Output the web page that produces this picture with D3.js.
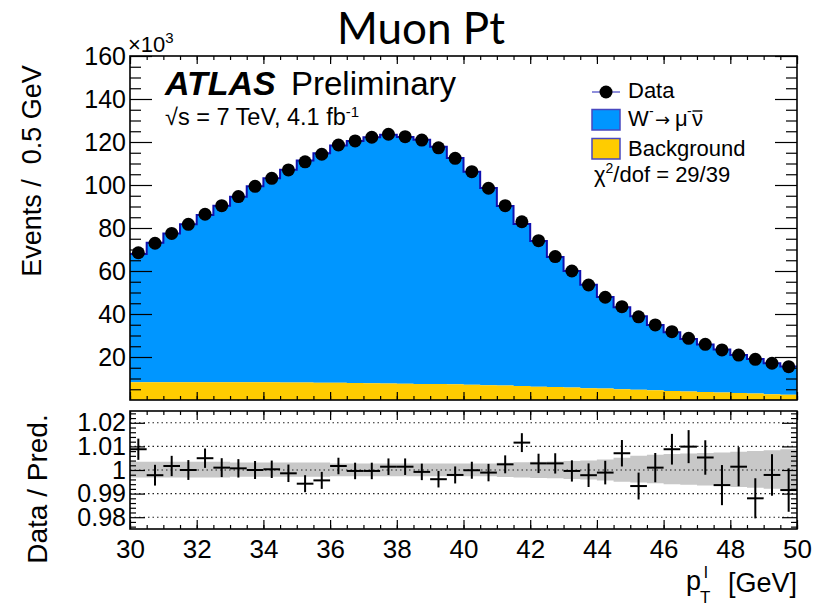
<!DOCTYPE html>
<html><head><meta charset="utf-8">
<script src="https://cdn.jsdelivr.net/npm/d3@7"></script>
<style>
body{margin:0;background:#fff}
text{font-family:"Liberation Sans",Arial,Helvetica,sans-serif;fill:#000}
</style>
</head><body>
<svg id="c" width="825" height="606"></svg>
<script>
// ---- data (x in GeV, main values in units of 10^3 events / 0.5 GeV) ----
const binLow = [30,30.5,31,31.5,32,32.5,33,33.5,34,34.5,35,35.5,36,36.5,37,37.5,38,38.5,39,39.5,
                40,40.5,41,41.5,42,42.5,43,43.5,44,44.5,45,45.5,46,46.5,47,47.5,48,48.5,49,49.5];
const binWidth = 0.5;
const dataVals = [68.5,72.9,77.5,81.7,86.4,90.4,94.6,99.4,103.1,107.0,110.8,114.3,118.6,120.5,122.2,123.6,122.5,120.9,117.3,112.4,
                  106.2,98.5,90.4,82.9,74.1,66.7,60.0,53.5,47.8,43.4,38.7,34.9,31.8,28.7,25.9,23.3,20.9,18.9,17.1,15.5];
const signalVals = [59.6,64.8,69.1,73.4,77.7,82.1,86.3,91.2,94.9,99.0,103.3,106.8,110.4,112.6,114.4,115.7,114.7,113.5,110.4,105.3,
                    99.1,91.7,83.5,75.4,67.7,60.5,54.2,48.1,42.6,38.1,34.2,30.4,27.3,24.4,22.1,20.0,17.7,16.1,14.4,13.2];
const backgroundVals = [8.3,8.3,8.3,8.3,8.3,8.2,8.2,8.2,8.2,8.1,8.1,8.0,8.0,7.9,7.8,7.7,7.6,7.5,7.4,7.3,
                        7.1,6.9,6.7,6.5,6.2,6.0,5.8,5.5,5.3,5.0,4.8,4.5,4.2,4.0,3.7,3.5,3.2,3.0,2.7,2.4];
const ratioVals = [1.0088,0.9978,1.0017,1.0000,1.0050,1.0010,1.0007,1.0000,1.0003,0.9986,0.9942,0.9956,1.0017,0.9996,0.9996,1.0014,1.0014,0.9992,0.9961,0.9979,
                   0.9999,0.9989,1.0024,1.0116,1.0028,1.0028,0.9996,0.9978,0.9989,1.0071,0.9932,1.0010,1.0088,1.0099,1.0053,0.9936,1.0014,0.9880,0.9979,0.9915];
const ratioErr = [0.0045,0.0044,0.0043,0.0042,0.0041,0.0040,0.0039,0.0038,0.0037,0.0037,0.0036,0.0036,0.0035,0.0035,0.0035,0.0035,0.0035,0.0035,0.0035,0.0036,
                  0.0036,0.0037,0.0038,0.0040,0.0041,0.0043,0.0045,0.0050,0.0050,0.0056,0.0057,0.0062,0.0065,0.0070,0.0073,0.0085,0.0083,0.0085,0.0088,0.0092];
const bandHi = [1.0035,1.0035,1.0035,1.0035,1.0035,1.0035,1.0032,1.0032,1.0032,1.0032,1.0032,1.0032,1.0028,1.0028,1.0028,1.0028,1.0028,1.0028,1.0028,1.0028,
                1.0028,1.0028,1.0031,1.0033,1.0035,1.0036,1.0038,1.0040,1.0045,1.0052,1.0060,1.0065,1.0068,1.0070,1.0072,1.0074,1.0077,1.0080,1.0084,1.0088];
const bandLo = [0.9968,0.9968,0.9968,0.9968,0.9968,0.9968,0.9971,0.9971,0.9971,0.9971,0.9971,0.9971,0.9973,0.9973,0.9973,0.9973,0.9973,0.9973,0.9973,0.9973,
                0.9973,0.9973,0.9970,0.9968,0.9966,0.9965,0.9962,0.9960,0.9955,0.9950,0.9947,0.9944,0.9940,0.9937,0.9934,0.9932,0.9928,0.9925,0.9921,0.9918];
const xMajorTicks = [30,32,34,36,38,40,42,44,46,48,50];
const yMainTicks = [20,40,60,80,100,120,140,160];
const yRatioTicks = [0.98,0.99,1,1.01,1.02];
const yRatioLabels = ["0.98","0.99","1","1.01","1.02"];

// ---- layout ----
const L = 130, R = 797, T1 = 56, B1 = 400, T2 = 411, B2 = 529;
const svg = d3.select("#c");
svg.append("rect").attr("width",825).attr("height",606).attr("fill","#fff");

const x = d3.scaleLinear().domain([30,50]).range([L,R]);
const y = d3.scaleLinear().domain([0,160]).range([B1,T1]);
const yr = d3.scaleLinear().domain([0.975,1.025]).range([B2,T2]);

const bins = binLow.map((lo,i)=>({lo, hi: lo+binWidth, c: lo+binWidth/2,
  data: dataVals[i], sig: signalVals[i], bg: backgroundVals[i],
  r: ratioVals[i], e: ratioErr[i], bh: bandHi[i], bl: bandLo[i]}));
// histogram edge points (last bin closed at its upper edge)
const edges = bins.map(b=>({x:b.lo, bg:b.bg, tot:b.bg+b.sig, bh:b.bh, bl:b.bl}));
const lastB = bins[bins.length-1];
edges.push({x:lastB.hi, bg:lastB.bg, tot:lastB.bg+lastB.sig, bh:lastB.bh, bl:lastB.bl});

const defs = svg.append("defs");
defs.append("clipPath").attr("id","clip1").append("rect").attr("x",L).attr("y",T1).attr("width",R-L).attr("height",B1-T1);
defs.append("clipPath").attr("id","clip2").append("rect").attr("x",L).attr("y",T2).attr("width",R-L).attr("height",B2-T2);

// ---- main panel ----
const g1 = svg.append("g").attr("clip-path","url(#clip1)");
g1.append("path").datum(edges)
  .attr("d", d3.area().curve(d3.curveStepAfter).x(d=>x(d.x)).y0(d=>y(d.bg)).y1(d=>y(d.tot)))
  .attr("fill","#0096ff");
g1.append("path").datum(edges)
  .attr("d", d3.area().curve(d3.curveStepAfter).x(d=>x(d.x)).y0(y(0)).y1(d=>y(d.bg)))
  .attr("fill","#ffcc00");
g1.append("path").datum(edges)
  .attr("d", d3.line().curve(d3.curveStepAfter).x(d=>x(d.x)).y(d=>y(d.tot)))
  .attr("fill","none").attr("stroke","#1010b0").attr("stroke-width",2);
g1.selectAll("circle.dp").data(bins).join("circle").attr("class","dp")
  .attr("cx",d=>x(d.c)).attr("cy",d=>y(d.data)).attr("r",6.5).attr("fill","#000");

// axes helpers
function axesFor(ys, top, bottom, yMajor, yMinor, yMajSize, yMinSize, xMajSize, xMinSize, labelsY, labelsX, fs){
  const xMinor = binLow.concat([50]);
  const mk = (axis, tr) => {
    const g = svg.append("g").attr("transform",tr).call(axis);
    g.select(".domain").remove();
    g.selectAll(".tick line").attr("stroke","#000").attr("stroke-width",1.2);
    return g;
  };
  mk(d3.axisBottom(x).tickValues(xMinor).tickSize(-xMinSize).tickFormat(""), `translate(0,${bottom})`);
  const xb = mk(d3.axisBottom(x).tickValues(xMajorTicks).tickSize(-xMajSize).tickPadding(11)
      .tickFormat(labelsX ? d3.format("d") : ""), `translate(0,${bottom})`);
  xb.selectAll("text").attr("font-size",26).attr("font-family","Liberation Sans, Arial, sans-serif");
  mk(d3.axisTop(x).tickValues(xMinor).tickSize(-xMinSize).tickFormat(""), `translate(0,${top})`);
  mk(d3.axisTop(x).tickValues(xMajorTicks).tickSize(-xMajSize).tickFormat(""), `translate(0,${top})`);
  mk(d3.axisLeft(ys).tickValues(yMinor).tickSize(-yMinSize).tickFormat(""), `translate(${L},0)`);
  const yl = mk(d3.axisLeft(ys).tickValues(yMajor).tickSize(-yMajSize).tickPadding(4)
      .tickFormat((d,i)=>labelsY[i]), `translate(${L},0)`);
  yl.selectAll("text").attr("font-size",fs).attr("font-family","Liberation Sans, Arial, sans-serif");
  mk(d3.axisRight(ys).tickValues(yMinor).tickSize(-yMinSize).tickFormat(""), `translate(${R},0)`);
  mk(d3.axisRight(ys).tickValues(yMajor).tickSize(-yMajSize).tickFormat(""), `translate(${R},0)`);
}

const yMainMinor = [5,10,15,25,30,35,45,50,55,65,70,75,85,90,95,105,110,115,125,130,135,145,150,155];
axesFor(y, T1, B1, yMainTicks, yMainMinor, 22, 11, 8, 4, yMainTicks.map(String), false, 25);
svg.append("rect").attr("x",L).attr("y",T1).attr("width",R-L).attr("height",B1-T1)
  .attr("fill","none").attr("stroke","#000").attr("stroke-width",1.6);

// ---- ratio panel ----
const g2 = svg.append("g").attr("clip-path","url(#clip2)");
g2.append("path").datum(edges)
  .attr("d", d3.area().curve(d3.curveStepAfter).x(d=>x(d.x)).y0(d=>yr(d.bl)).y1(d=>yr(d.bh)))
  .attr("fill","#c8c8c8");
g2.selectAll("line.grid").data(yRatioTicks).join("line").attr("class","grid")
  .attr("x1",L).attr("x2",R).attr("y1",d=>yr(d)).attr("y2",d=>yr(d))
  .attr("stroke","#222").attr("stroke-width",1.1).attr("stroke-dasharray","1.5,3");
const cr = g2.selectAll("g.cr").data(bins).join("g").attr("class","cr");
cr.append("line").attr("x1",d=>x(d.lo)).attr("x2",d=>x(d.hi)).attr("y1",d=>yr(d.r)).attr("y2",d=>yr(d.r))
  .attr("stroke","#000").attr("stroke-width",2);
cr.append("line").attr("x1",d=>x(d.c)).attr("x2",d=>x(d.c)).attr("y1",d=>yr(d.r-d.e)).attr("y2",d=>yr(d.r+d.e))
  .attr("stroke","#000").attr("stroke-width",2);

const yRatioMinor = [0.976,0.978,0.982,0.984,0.986,0.988,0.992,0.994,0.996,0.998,1.002,1.004,1.006,1.008,1.012,1.014,1.016,1.018,1.022,1.024];
axesFor(yr, T2, B2, yRatioTicks, yRatioMinor, 15, 6, 9, 4, yRatioLabels, true, 25);
svg.append("rect").attr("x",L).attr("y",T2).attr("width",R-L).attr("height",B2-T2)
  .attr("fill","none").attr("stroke","#000").attr("stroke-width",1.6);

// ---- texts ----
svg.append("text").attr("x",421).attr("y",44).attr("text-anchor","middle")
  .style("font-family","Lato, 'Open Sans', sans-serif").attr("font-size",44).text("Muon Pt");

const e10 = svg.append("text").attr("x",128).attr("y",52).attr("font-size",22);
e10.append("tspan").text("\u00d710");
e10.append("tspan").attr("font-size",15).attr("dy",-9).text("3");

svg.append("text").attr("transform","translate(41,171) rotate(-90)").attr("text-anchor","middle")
  .attr("font-size",27).text("Events /\u00a0 0.5 GeV");
svg.append("text").attr("transform","translate(47,489) rotate(-90)").attr("text-anchor","middle")
  .attr("font-size",28).text("Data / Pred.");

// x title
svg.append("text").attr("x",797).attr("y",592).attr("text-anchor","end").attr("font-size",27).text("[GeV]");
svg.append("text").attr("x",686).attr("y",590).attr("font-size",27).text("p");
svg.append("text").attr("x",704).attr("y",578).attr("font-size",17).text("l");
svg.append("text").attr("x",700).attr("y",603).attr("font-size",17).text("T");

// ATLAS
svg.append("text").attr("x",165).attr("y",95).attr("font-size",34).attr("font-weight","bold").attr("font-style","italic").text("ATLAS");
svg.append("text").attr("x",291).attr("y",95).attr("font-size",33).text("Preliminary");
const lum = svg.append("text").attr("x",165).attr("y",125).attr("font-size",23.5);
lum.append("tspan").text("\u221as = 7 TeV, 4.1 fb");
lum.append("tspan").attr("font-size",15).attr("dy",-8.5).text("-1");

// legend
const lg = svg.append("g");
lg.append("line").attr("x1",592).attr("x2",620).attr("y1",92).attr("y2",92).attr("stroke","#6a6ad0").attr("stroke-width",1.5);
lg.append("circle").attr("cx",606).attr("cy",92).attr("r",6.5).attr("fill","#000");
lg.append("text").attr("x",628).attr("y",98).attr("font-size",22).text("Data");
lg.append("rect").attr("x",592).attr("y",109.5).attr("width",28).attr("height",20.5).attr("fill","#0096ff").attr("stroke","#4848c0").attr("stroke-width",1.5);
const wt = lg.append("text").attr("x",628).attr("y",126).attr("font-size",22);
wt.append("tspan").text("W");
wt.append("tspan").attr("x",649).attr("dy",-10).attr("font-size",14).text("-");
wt.append("tspan").attr("x",655).attr("dy",10).style("font-family","'DejaVu Sans', sans-serif").attr("font-size",18).text("\u2192");
wt.append("tspan").attr("x",675).text("\u03bc");
wt.append("tspan").attr("x",687).attr("dy",-10).attr("font-size",14).text("-");
wt.append("tspan").attr("x",692).attr("dy",10).text("\u03bd");
lg.append("line").attr("x1",692.5).attr("x2",702.5).attr("y1",111).attr("y2",111).attr("stroke","#000").attr("stroke-width",1.4);
lg.append("rect").attr("x",592).attr("y",138.5).attr("width",28).attr("height",20.5).attr("fill","#ffcc00").attr("stroke","#4848c0").attr("stroke-width",1.5);
lg.append("text").attr("x",628).attr("y",156).attr("font-size",22).text("Background");
const ct = lg.append("text").attr("x",594).attr("y",182).attr("font-size",22);
ct.append("tspan").text("\u03c7");
ct.append("tspan").attr("font-size",14).attr("dy",-9).text("2");
ct.append("tspan").attr("dy",9).text("/dof = 29/39");
</script>
</body></html>
